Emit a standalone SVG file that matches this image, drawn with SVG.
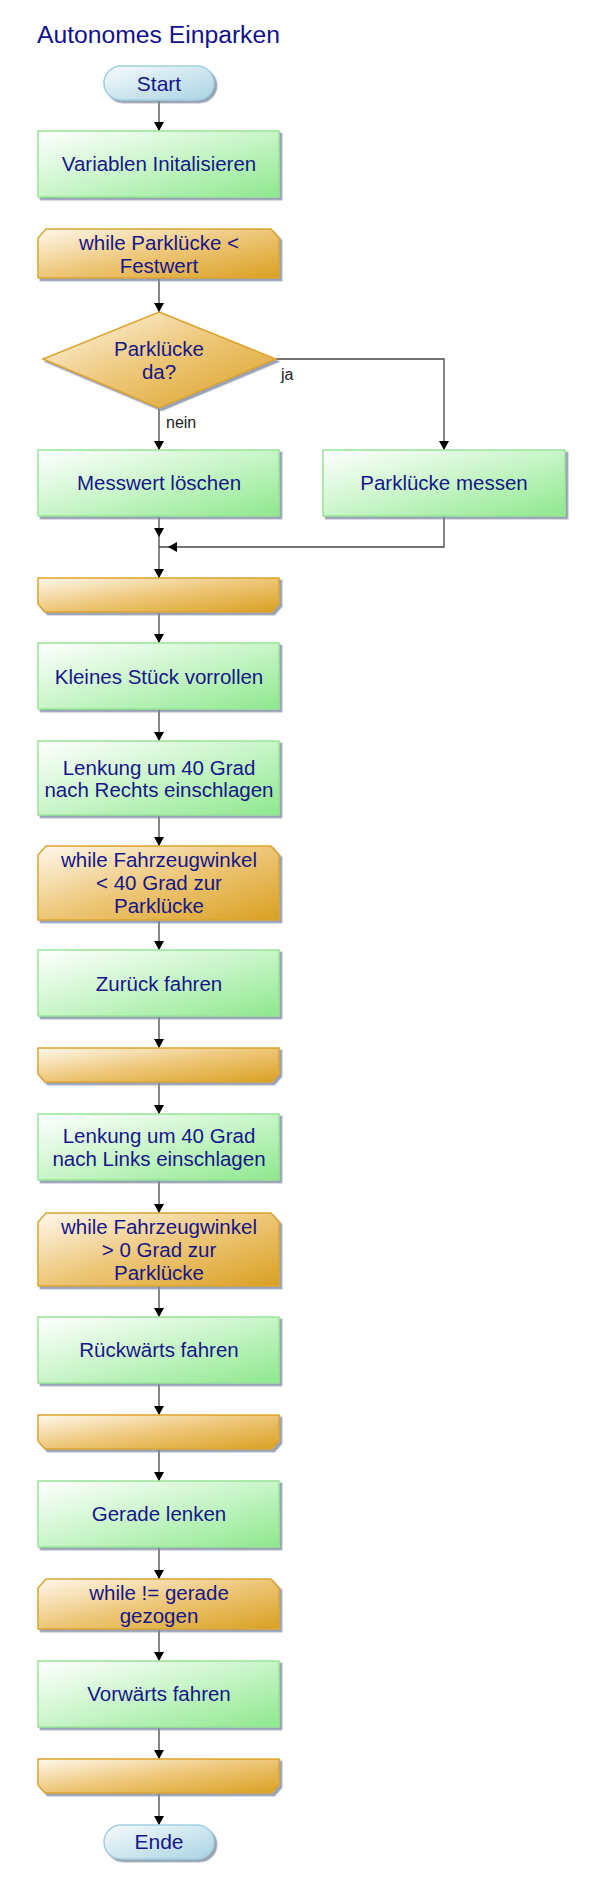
<svg xmlns="http://www.w3.org/2000/svg" width="600" height="1890" viewBox="0 0 600 1890">
<defs>
<linearGradient id="gGreen" x1="0" y1="0" x2="1" y2="1">
<stop offset="0" stop-color="#ffffff"/><stop offset="0.5" stop-color="#c8f5c8"/><stop offset="1" stop-color="#8ee88e"/>
</linearGradient>
<linearGradient id="gOrange" x1="0" y1="0" x2="1" y2="1">
<stop offset="0" stop-color="#fff8ec"/><stop offset="0.5" stop-color="#edc677"/><stop offset="1" stop-color="#daa022"/>
</linearGradient>
<linearGradient id="gBlue" x1="0" y1="0" x2="1" y2="1">
<stop offset="0" stop-color="#f6fbfd"/><stop offset="1" stop-color="#a9d3e3"/>
</linearGradient>
<filter id="sh" x="-5%" y="-5%" width="115%" height="130%">
<feDropShadow dx="2.5" dy="2.5" stdDeviation="0.6" flood-color="#7d8aa0" flood-opacity="0.8"/>
</filter>
<marker id="arr" markerUnits="userSpaceOnUse" markerWidth="10" markerHeight="10" refX="9" refY="5" orient="auto">
<path d="M0,0 L9,5 L0,10 z" fill="#000"/>
</marker>
<style>
.t{font-family:"Liberation Sans",Arial,sans-serif;font-size:20.5px;fill:#16168a;text-anchor:middle}
.tt{font-family:"Liberation Sans",Arial,sans-serif;font-size:21px;fill:#16168a;text-anchor:middle}
.title{font-family:"Liberation Sans",Arial,sans-serif;font-size:24.7px;fill:#10108c}
.lbl{font-family:"Liberation Sans",Arial,sans-serif;font-size:16px;fill:#222}
.box{fill:url(#gGreen);stroke:#98e498;stroke-width:1.5;filter:url(#sh)}
.loop{fill:url(#gOrange);stroke:#dca42c;stroke-width:1.5;filter:url(#sh)}
.term{fill:url(#gBlue);stroke:#a3cfe0;stroke-width:1.5;filter:url(#sh)}
.c{fill:none;stroke:#444;stroke-width:1.3}
.ah{fill:#000}
</style>
</defs>

<text class="title" x="37" y="43">Autonomes Einparken</text>

<g id="connectors">
<line class="c" x1="159" y1="100" x2="159" y2="131" marker-end="url(#arr)"/>
<line class="c" x1="159" y1="278" x2="159" y2="312" marker-end="url(#arr)"/>
<line class="c" x1="159" y1="408" x2="159" y2="450" marker-end="url(#arr)"/>
<polyline class="c" points="276,359 444,359 444,450" marker-end="url(#arr)"/>
<line class="c" x1="159" y1="516" x2="159" y2="578" marker-end="url(#arr)"/>
<polygon class="ah" points="159,537 154,528 164,528"/>
<polyline class="c" points="444,516 444,547 159,547"/>
<polygon class="ah" points="168,547 177,542 177,552"/>
<line class="c" x1="159" y1="612" x2="159" y2="643" marker-end="url(#arr)"/>
<line class="c" x1="159" y1="709" x2="159" y2="741" marker-end="url(#arr)"/>
<line class="c" x1="159" y1="815" x2="159" y2="846" marker-end="url(#arr)"/>
<line class="c" x1="159" y1="920" x2="159" y2="950" marker-end="url(#arr)"/>
<line class="c" x1="159" y1="1016" x2="159" y2="1048" marker-end="url(#arr)"/>
<line class="c" x1="159" y1="1082" x2="159" y2="1114" marker-end="url(#arr)"/>
<line class="c" x1="159" y1="1180" x2="159" y2="1213" marker-end="url(#arr)"/>
<line class="c" x1="159" y1="1286" x2="159" y2="1317" marker-end="url(#arr)"/>
<line class="c" x1="159" y1="1383" x2="159" y2="1415" marker-end="url(#arr)"/>
<line class="c" x1="159" y1="1449" x2="159" y2="1481" marker-end="url(#arr)"/>
<line class="c" x1="159" y1="1547" x2="159" y2="1579" marker-end="url(#arr)"/>
<line class="c" x1="159" y1="1629" x2="159" y2="1661" marker-end="url(#arr)"/>
<line class="c" x1="159" y1="1727" x2="159" y2="1759" marker-end="url(#arr)"/>
<line class="c" x1="159" y1="1793" x2="159" y2="1825" marker-end="url(#arr)"/>
<text class="lbl" x="281" y="380">ja</text>
<text class="lbl" x="166" y="428">nein</text>
</g>

<g id="start">
<rect class="term" x="104" y="66" width="110" height="34" rx="17"/>
<text class="tt" x="159" y="91">Start</text>
</g>

<g id="init">
<rect class="box" x="38" y="131" width="241" height="66"/>
<text class="t" x="159" y="171">Variablen Initalisieren</text>
</g>

<g id="loop1">
<path class="loop" d="M46,229 L271,229 L279,238 L279,278 L38,278 L38,238 Z"/>
<text class="t" x="159" y="250">while Parklücke &lt;</text>
<text class="t" x="159" y="273">Festwert</text>
</g>

<g id="decision">
<polygon class="loop" points="159,312 276,359 159,408 43,359"/>
<text class="t" x="159" y="356">Parklücke</text>
<text class="t" x="159" y="379">da?</text>
</g>

<g id="loeschen">
<rect class="box" x="38" y="450" width="241" height="66"/>
<text class="t" x="159" y="490">Messwert löschen</text>
</g>

<g id="messen">
<rect class="box" x="323" y="450" width="242" height="66"/>
<text class="t" x="444" y="490">Parklücke messen</text>
</g>

<g id="loopend1">
<path class="loop" d="M38,578 L279,578 L279,604 L272,612 L45,612 L38,604 Z"/>
</g>

<g id="vorrollen">
<rect class="box" x="38" y="643" width="241" height="66"/>
<text class="t" x="159" y="684">Kleines Stück vorrollen</text>
</g>

<g id="rechts">
<rect class="box" x="38" y="741" width="241" height="74"/>
<text class="t" x="159" y="775">Lenkung um 40 Grad</text>
<text class="t" x="159" y="797">nach Rechts einschlagen</text>
</g>

<g id="loop2">
<path class="loop" d="M46,846 L271,846 L279,855 L279,920 L38,920 L38,855 Z"/>
<text class="t" x="159" y="867">while Fahrzeugwinkel</text>
<text class="t" x="159" y="890">&lt; 40 Grad zur</text>
<text class="t" x="159" y="913">Parklücke</text>
</g>

<g id="zurueck">
<rect class="box" x="38" y="950" width="241" height="66"/>
<text class="t" x="159" y="991">Zurück fahren</text>
</g>

<g id="loopend2">
<path class="loop" d="M38,1048 L279,1048 L279,1074 L272,1082 L45,1082 L38,1074 Z"/>
</g>

<g id="links">
<rect class="box" x="38" y="1114" width="241" height="66"/>
<text class="t" x="159" y="1143">Lenkung um 40 Grad</text>
<text class="t" x="159" y="1166">nach Links einschlagen</text>
</g>

<g id="loop3">
<path class="loop" d="M46,1213 L271,1213 L279,1222 L279,1286 L38,1286 L38,1222 Z"/>
<text class="t" x="159" y="1234">while Fahrzeugwinkel</text>
<text class="t" x="159" y="1257">&gt; 0 Grad zur</text>
<text class="t" x="159" y="1280">Parklücke</text>
</g>

<g id="rueckwaerts">
<rect class="box" x="38" y="1317" width="241" height="66"/>
<text class="t" x="159" y="1357">Rückwärts fahren</text>
</g>

<g id="loopend3">
<path class="loop" d="M38,1415 L279,1415 L279,1441 L272,1449 L45,1449 L38,1441 Z"/>
</g>

<g id="gerade">
<rect class="box" x="38" y="1481" width="241" height="66"/>
<text class="t" x="159" y="1521">Gerade lenken</text>
</g>

<g id="loop4">
<path class="loop" d="M46,1579 L271,1579 L279,1588 L279,1629 L38,1629 L38,1588 Z"/>
<text class="t" x="159" y="1600">while != gerade</text>
<text class="t" x="159" y="1623">gezogen</text>
</g>

<g id="vorwaerts">
<rect class="box" x="38" y="1661" width="241" height="66"/>
<text class="t" x="159" y="1701">Vorwärts fahren</text>
</g>

<g id="loopend4">
<path class="loop" d="M38,1759 L279,1759 L279,1785 L272,1793 L45,1793 L38,1785 Z"/>
</g>

<g id="ende">
<rect class="term" x="104" y="1825" width="110" height="34" rx="17"/>
<text class="tt" x="159" y="1849">Ende</text>
</g>
</svg>
